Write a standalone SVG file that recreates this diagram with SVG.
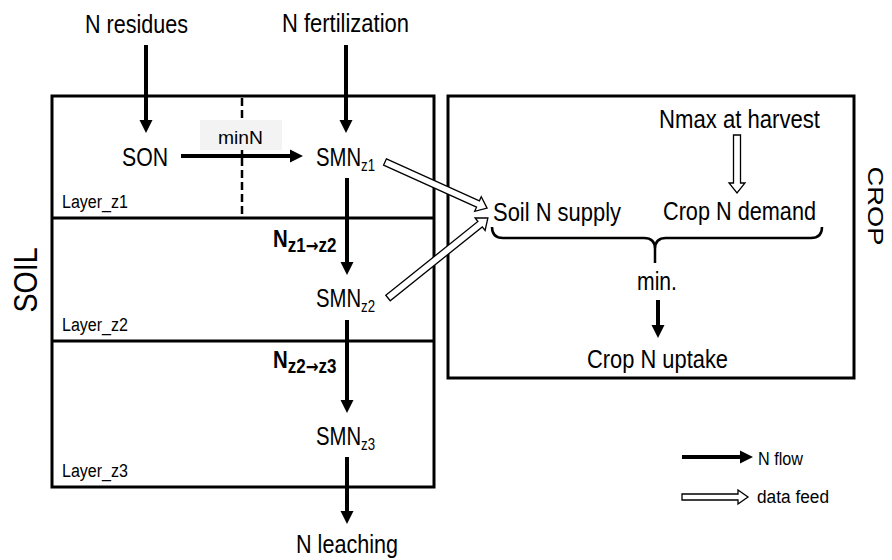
<svg xmlns="http://www.w3.org/2000/svg" width="892" height="560" viewBox="0 0 892 560">
<style>
.t{font-family:"Liberation Sans Narrow","Liberation Sans",Arial,sans-serif;fill:#000}
.b{font-weight:bold}
.ar{font-family:"DejaVu Sans",sans-serif;font-weight:bold}
.box{fill:none;stroke:#000;stroke-width:3}
.flow{stroke:#000;stroke-width:4;fill:none}
.feed{fill:#fff;stroke:#000;stroke-width:1.3;stroke-linejoin:miter}
</style>
<defs>
<marker id="ah" markerUnits="userSpaceOnUse" markerWidth="13" markerHeight="13" refX="1" refY="6.5" orient="auto" overflow="visible">
<path d="M0,0 L13,6.5 L0,13 z" fill="#000"/>
</marker>
</defs>
<rect width="892" height="560" fill="#fff"/>

<g id="soil">
<rect class="box" x="52" y="96" width="382" height="391"/>
<line class="box" x1="52" y1="218" x2="434" y2="218"/>
<line class="box" x1="52" y1="341" x2="434" y2="341"/>
<line x1="242" y1="98" x2="242" y2="217" stroke="#000" stroke-width="2.5" stroke-dasharray="8,4"/>
<text class="t" transform="translate(37,280) rotate(-90)" font-size="33" text-anchor="middle" textLength="65" lengthAdjust="spacingAndGlyphs">SOIL</text>
<text class="t" x="62" y="208" font-size="18" textLength="66" lengthAdjust="spacingAndGlyphs">Layer_z1</text>
<text class="t" x="62" y="331" font-size="18" textLength="66" lengthAdjust="spacingAndGlyphs">Layer_z2</text>
<text class="t" x="62" y="477" font-size="18" textLength="66" lengthAdjust="spacingAndGlyphs">Layer_z3</text>
</g>

<g id="crop">
<rect class="box" x="448" y="96" width="406" height="282"/>
<text class="t" transform="translate(868,206) rotate(90)" font-size="22" text-anchor="middle" textLength="79" lengthAdjust="spacingAndGlyphs">CROP</text>
</g>

<g id="n-residues"><text class="t" x="85" y="33" font-size="26" textLength="103" lengthAdjust="spacingAndGlyphs">N residues</text></g>
<g id="n-fertilization"><text class="t" x="282" y="32" font-size="26" textLength="127" lengthAdjust="spacingAndGlyphs">N fertilization</text></g>
<g id="son"><text class="t" x="122" y="166" font-size="26" textLength="46" lengthAdjust="spacingAndGlyphs">SON</text></g>
<g id="smn-z1"><text class="t" transform="translate(316,166) scale(0.78,1)" font-size="26">SMN<tspan font-size="17" dy="5">z1</tspan></text></g>
<g id="smn-z2"><text class="t" transform="translate(316,307) scale(0.78,1)" font-size="26">SMN<tspan font-size="17" dy="5">z2</tspan></text></g>
<g id="smn-z3"><text class="t" transform="translate(316,445) scale(0.78,1)" font-size="26">SMN<tspan font-size="17" dy="5">z3</tspan></text></g>
<g id="n-leaching"><text class="t" x="296" y="553" font-size="25" textLength="102" lengthAdjust="spacingAndGlyphs">N leaching</text></g>
<g id="nmax"><text class="t" x="659" y="128" font-size="26" textLength="161" lengthAdjust="spacingAndGlyphs">Nmax at harvest</text></g>
<g id="soil-n-supply"><text class="t" x="493" y="221" font-size="26" textLength="128" lengthAdjust="spacingAndGlyphs">Soil N supply</text></g>
<g id="crop-n-demand"><text class="t" x="663" y="220" font-size="26" textLength="153" lengthAdjust="spacingAndGlyphs">Crop N demand</text></g>
<g id="min"><text class="t" x="637" y="290" font-size="26" textLength="40" lengthAdjust="spacingAndGlyphs">min.</text></g>
<g id="crop-n-uptake"><text class="t" x="587" y="368" font-size="26" textLength="141" lengthAdjust="spacingAndGlyphs">Crop N uptake</text></g>

<g id="legend">
<line class="flow" x1="682" y1="457" x2="741" y2="457" marker-end="url(#ah)"/>
<text class="t" x="758" y="465" font-size="18" textLength="45" lengthAdjust="spacingAndGlyphs">N flow</text>
<polygon class="feed" transform="translate(682,497)" points="0,-3 56,-3 56,-7 66,0 56,7 56,3 0,3"/>
<text class="t" x="757" y="503" font-size="18" textLength="72" lengthAdjust="spacingAndGlyphs">data feed</text>
</g>

<g id="connectors">
<line class="flow" x1="146" y1="45" x2="146" y2="121" marker-end="url(#ah)"/>
<line class="flow" x1="346" y1="45" x2="346" y2="121" marker-end="url(#ah)"/>
<rect x="200" y="120" width="82" height="30" fill="#f3f3f3"/>
<text class="t" x="218" y="144" font-size="19" textLength="45" lengthAdjust="spacingAndGlyphs">minN</text>
<line class="flow" x1="181" y1="156" x2="291" y2="156" marker-end="url(#ah)"/>
<line class="flow" x1="347" y1="178" x2="347" y2="263" marker-end="url(#ah)"/>
<text class="t b" transform="translate(273,247) scale(0.85,1)" font-size="24">N<tspan font-size="20" dy="5">z1</tspan><tspan class="ar" font-size="18">→</tspan><tspan font-size="20">z2</tspan></text>
<line class="flow" x1="347" y1="320" x2="347" y2="401" marker-end="url(#ah)"/>
<text class="t b" transform="translate(273,368) scale(0.85,1)" font-size="24">N<tspan font-size="20" dy="5">z2</tspan><tspan class="ar" font-size="18">→</tspan><tspan font-size="20">z3</tspan></text>
<line class="flow" x1="347" y1="457" x2="347" y2="512" marker-end="url(#ah)"/>
<line class="flow" x1="658" y1="300" x2="658" y2="326" marker-end="url(#ah)"/>
<polygon class="feed" transform="translate(385,162) rotate(24.3)" points="0,-3.5 102,-3.5 102,-8 112,0 102,8 102,3.5 0,3.5"/>
<polygon class="feed" transform="translate(388,298) rotate(-38.7)" points="0,-3.5 118,-3.5 118,-8 128,0 118,8 118,3.5 0,3.5"/>
<polygon class="feed" transform="translate(737,135) rotate(90)" points="0,-3.5 48,-3.5 48,-8 58,0 48,8 48,3.5 0,3.5"/>
<path d="M492,227 Q492,238 503,238 L644,238 Q655,238 655,249 L655,263 M655,249 Q655,238 666,238 L811,238 Q822,238 822,227" fill="none" stroke="#000" stroke-width="2.5"/>
</g>
</svg>
